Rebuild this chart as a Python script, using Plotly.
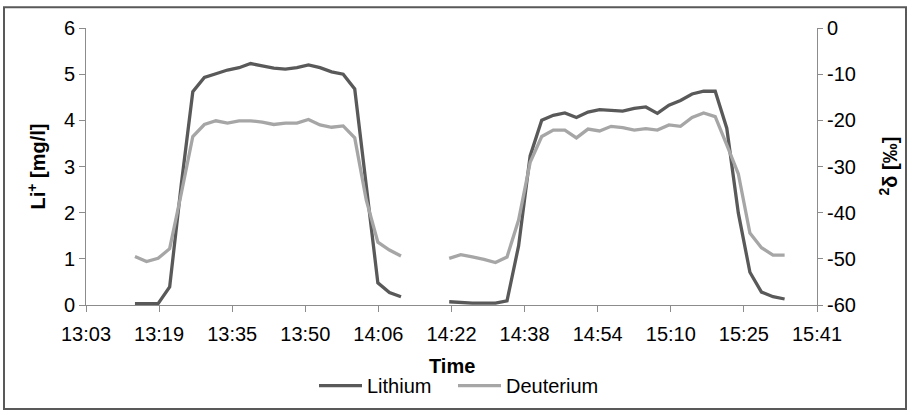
import pandas as pd
import plotly.graph_objects as go

# ---- data ----
times_run1 = ["13:13:35", "13:16:05", "13:18:35", "13:21:05", "13:23:35", "13:26:05",
              "13:28:35", "13:31:05", "13:33:35", "13:36:05", "13:38:35", "13:41:05",
              "13:43:35", "13:46:05", "13:48:35", "13:51:05", "13:53:35", "13:56:05",
              "13:58:35", "14:01:05", "14:03:35", "14:06:05", "14:08:35", "14:11:05"]
times_run2 = ["14:21:30", "14:24:00", "14:26:30", "14:29:00", "14:31:30", "14:34:00",
              "14:36:30", "14:39:00", "14:41:30", "14:44:00", "14:46:30", "14:49:00",
              "14:51:30", "14:54:00", "14:56:30", "14:59:00", "15:01:30", "15:04:00",
              "15:06:30", "15:09:00", "15:11:30", "15:14:00", "15:16:30", "15:19:00",
              "15:21:30", "15:24:00", "15:26:30", "15:29:00", "15:31:30", "15:34:00"]

lithium_run1 = [0.03, 0.03, 0.03, 0.39, 2.60, 4.62, 4.93, 5.01, 5.09, 5.14, 5.23, 5.18,
                5.13, 5.11, 5.14, 5.20, 5.14, 5.05, 5.00, 4.68, 2.60, 0.48, 0.27, 0.18]
lithium_run2 = [0.07, 0.05, 0.04, 0.04, 0.04, 0.09, 1.28, 3.23, 4.00, 4.11, 4.16, 4.06,
                4.18, 4.23, 4.21, 4.20, 4.26, 4.29, 4.15, 4.33, 4.43, 4.57, 4.63, 4.63,
                3.83, 1.99, 0.71, 0.28, 0.18, 0.13]

deuterium_run1 = [-49.5, -50.6, -49.9, -47.8, -35.9, -23.5, -20.9, -20.1, -20.6, -20.1,
                  -20.1, -20.4, -20.9, -20.6, -20.6, -19.8, -21.0, -21.5, -21.2, -23.8,
                  -37.3, -46.4, -48.1, -49.4]
deuterium_run2 = [-49.9, -49.1, -49.6, -50.1, -50.8, -49.6, -41.6, -29.1, -23.5, -22.1,
                  -22.1, -23.8, -21.9, -22.3, -21.3, -21.6, -22.1, -21.8, -22.1, -21.0,
                  -21.3, -19.4, -18.4, -19.2, -25.3, -31.6, -44.4, -47.6, -49.2, -49.2]

x_tick_labels = ["13:03", "13:19", "13:35", "13:50", "14:06", "14:22",
                 "14:38", "14:54", "15:10", "15:25", "15:41"]
y2_tick_values = [0, -10, -20, -30, -40, -50, -60]
y2_tick_labels = ["0", "-10", "-20", "-30", "-40", "-50", "-60"]
axis_start = "13:03:00"
axis_end = "15:41:00"

# ---- build ----
DAY = "2000-01-01 "
def to_dt(lst):
    return list(pd.to_datetime([DAY + t for t in lst]))

gap_time = pd.Timestamp(DAY + "14:16:00")
x_all = to_dt(times_run1) + [gap_time] + to_dt(times_run2)
li_all = lithium_run1 + [None] + lithium_run2
d_all = deuterium_run1 + [None] + deuterium_run2

x0 = pd.Timestamp(DAY + axis_start)
x1 = pd.Timestamp(DAY + axis_end)
tickvals = list(pd.date_range(x0, x1, periods=len(x_tick_labels)))

FONT = "Liberation Sans, Arial, sans-serif"
AXC = "#8c8c8c"

# plot area in pixels: x 86..817, y 28..310
PL, PR, PT, PB = 86, 817, 28, 310
PW, PH = PR - PL, PB - PT
def px_x(x):
    return (x - PL) / PW
def px_y(y):
    return (PB - y) / PH

fig = go.Figure()
fig.add_trace(go.Scatter(x=x_all, y=li_all, name="Lithium", mode="lines", legend="legend",
                         line=dict(color="#595959", width=3.3), connectgaps=False))
fig.add_trace(go.Scatter(x=x_all, y=d_all, name="Deuterium", mode="lines", yaxis="y2",
                         legend="legend2",
                         line=dict(color="#a6a6a6", width=3.3), connectgaps=False))

leg_common = dict(orientation="h", yanchor="middle", xanchor="left",
                  font=dict(size=20), itemwidth=43, bgcolor="rgba(0,0,0,0)")

fig.update_layout(
    width=912, height=417,
    margin=dict(l=PL, r=912 - PR, t=PT, b=417 - PB),
    paper_bgcolor="white", plot_bgcolor="white",
    font=dict(family=FONT, size=20, color="black"),
    showlegend=True,
    legend=dict(x=px_x(314), y=px_y(392), **leg_common),
    legend2=dict(x=px_x(453), y=px_y(392), **leg_common),
    xaxis=dict(range=[x0, x1], tickvals=tickvals, ticktext=x_tick_labels,
               showgrid=False, zeroline=False, showline=True, linecolor=AXC, linewidth=1,
               ticks="outside", ticklen=6, tickcolor=AXC, ticklabelstandoff=5),
    yaxis=dict(range=[0, 6], dtick=1, showgrid=False, zeroline=False,
               showline=True, linecolor=AXC, linewidth=1,
               ticks="outside", ticklen=6, tickcolor=AXC),
    yaxis2=dict(range=[-60, 0], tickvals=y2_tick_values, ticktext=y2_tick_labels,
                overlaying="y", side="right",
                showgrid=False, zeroline=False, showline=True, linecolor=AXC, linewidth=1,
                ticks="outside", ticklen=5, tickcolor=AXC),
    annotations=[
        dict(text="<b>Time</b>", xref="paper", yref="paper", x=px_x(451.5), y=px_y(372),
             xanchor="center", yanchor="middle", showarrow=False, font=dict(size=20)),
        dict(text="<b>Li<sup>+</sup> [mg/l]</b>", xref="paper", yref="paper",
             x=px_x(36), y=px_y(169), xanchor="center", yanchor="middle",
             textangle=-90, showarrow=False, font=dict(size=20)),
        dict(text="<b><sup>2</sup>δ [‰]</b>", xref="paper", yref="paper",
             x=px_x(888), y=px_y(169), xanchor="center", yanchor="middle",
             textangle=-90, showarrow=False, font=dict(size=20)),
    ],
    shapes=[dict(type="rect", xref="paper", yref="paper",
                 x0=px_x(4), x1=px_x(906), y0=px_y(416), y1=px_y(7),
                 line=dict(color="#595959", width=2), fillcolor="rgba(0,0,0,0)",
                 layer="below")],
)

fig.write_html("out.html", config={"displayModeBar": False},
               post_script="document.body.style.margin='0';")
